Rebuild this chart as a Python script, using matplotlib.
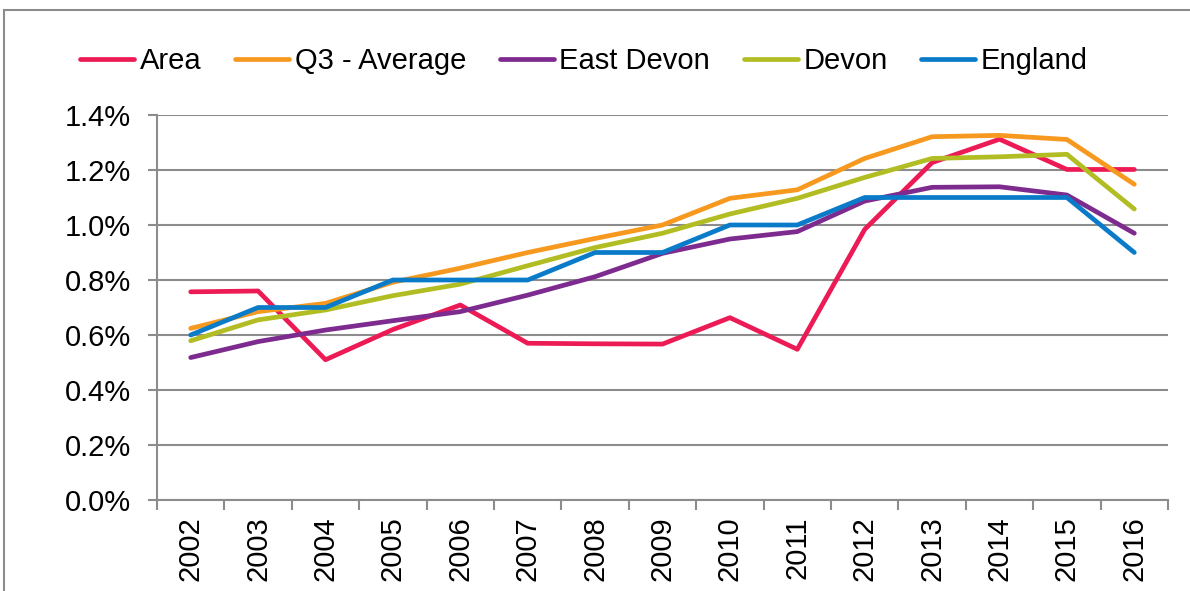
import matplotlib
matplotlib.use("Agg")
import matplotlib.pyplot as plt
from matplotlib.patches import Rectangle
from matplotlib.ticker import FixedLocator, FuncFormatter

years = [str(y) for y in range(2002, 2017)]

area = [0.757, 0.760, 0.510, 0.620, 0.709, 0.570, 0.568, 0.567, 0.663,
        0.548, 0.984, 1.227, 1.312, 1.202, 1.202]
q3_average = [0.624, 0.685, 0.715, 0.792, 0.843, 0.900, 0.951, 1.000, 1.097,
              1.128, 1.242, 1.321, 1.326, 1.311, 1.148]
east_devon = [0.518, 0.576, 0.618, 0.652, 0.685, 0.745, 0.812, 0.897, 0.949,
              0.976, 1.087, 1.137, 1.139, 1.109, 0.970]
devon = [0.579, 0.655, 0.691, 0.743, 0.785, 0.852, 0.918, 0.970, 1.040,
         1.097, 1.173, 1.242, 1.248, 1.257, 1.058]
england = [0.60, 0.70, 0.70, 0.80, 0.80, 0.80, 0.90, 0.90, 1.00,
           1.00, 1.10, 1.10, 1.10, 1.10, 0.90]

series = [
    ("Area", area, "#ED1B55"),
    ("Q3 - Average", q3_average, "#F7991F"),
    ("East Devon", east_devon, "#7D2B8E"),
    ("Devon", devon, "#B1BD23"),
    ("England", england, "#0A7BC9"),
]

GREY = "#8C8C8C"
plt.rcParams["font.family"] = ["Liberation Sans", "DejaVu Sans"]
plt.rcParams["font.size"] = 21

fig = plt.figure(figsize=(11.9, 5.91), dpi=100)
ax = fig.add_axes([157 / 1190, 1 - 500 / 591, (1168 - 157) / 1190, (500 - 115) / 591])

x = list(range(len(years)))
for name, values, color in series:
    ax.plot(x, values, color=color, lw=3.4, label=name,
            solid_capstyle="round", solid_joinstyle="round")

ax.set_xlim(-0.5, len(years) - 0.5)
ax.set_ylim(0, 1.4)
ax.set_yticks([i * 0.2 for i in range(8)])
ax.yaxis.set_major_formatter(FuncFormatter(lambda v, _: f"{v:.1f}%"))
ax.yaxis.grid(True, color=GREY, lw=1.5)
ax.set_axisbelow(True)

ax.set_xticks(x)
ax.set_xticklabels(years, rotation=90)
ax.xaxis.set_minor_locator(FixedLocator([i - 0.5 for i in range(len(years) + 1)]))
ax.tick_params(axis="x", which="major", length=0, pad=12)
ax.tick_params(axis="x", which="minor", length=7, width=1.5, color=GREY)
ax.tick_params(axis="y", length=6.5, width=1.5, color=GREY, pad=12)

for side in ("top", "right"):
    ax.spines[side].set_visible(False)
for side in ("left", "bottom"):
    ax.spines[side].set_color(GREY)
    ax.spines[side].set_linewidth(1.5)

fig.legend(loc="center left", bbox_to_anchor=(80 / 1190, 1 - 61 / 591), ncol=5,
           frameon=False, handlelength=1.85, handletextpad=0.2,
           columnspacing=1.15, borderaxespad=0, borderpad=0)

# outer chart border, open on the right and bottom
fig.add_artist(Rectangle((3.5 / 1190, -0.1), 1.2, 1.1 - 9.5 / 591,
                         transform=fig.transFigure, fill=False,
                         edgecolor=GREY, lw=1.5))

fig.savefig("out.png", dpi=100)
